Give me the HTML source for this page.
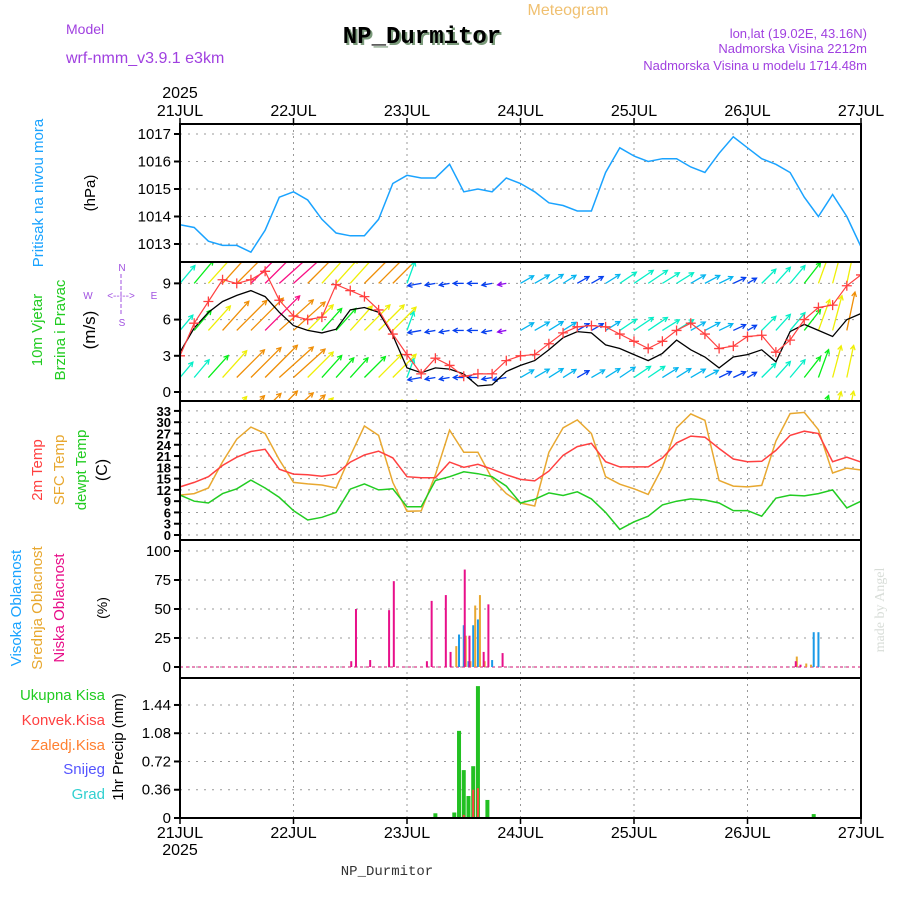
<!DOCTYPE html>
<html><head><meta charset="utf-8"><style>
html,body{margin:0;padding:0;background:#fff;}
svg{display:block;font-family:"Liberation Sans",sans-serif;}
</style></head><body>
<svg id="chart" width="900" height="900" viewBox="0 0 900 900">
<defs>
<clipPath id="clipW"><rect x="180" y="263" width="681" height="137"/></clipPath>
<clipPath id="clipP"><rect x="180" y="125" width="681" height="137"/></clipPath>
</defs>
<text x="568" y="15" fill="#f0c070" font-size="16" text-anchor="middle">Meteogram</text>
<text x="66" y="34" fill="#a040e0" font-size="14">Model</text>
<text x="66" y="63" fill="#a040e0" font-size="16">wrf-nmm_v3.9.1 e3km</text>
<text x="424" y="45" fill="#7a9a7a" font-size="24" font-weight="bold" font-family="Liberation Mono, monospace" text-anchor="middle">NP_Durmitor</text>
<text x="422" y="43" fill="#000" font-size="24" font-weight="bold" font-family="Liberation Mono, monospace" text-anchor="middle">NP_Durmitor</text>
<text x="867" y="38" fill="#a040e0" font-size="13" text-anchor="end">lon,lat (19.02E, 43.16N)</text>
<text x="867" y="53" fill="#a040e0" font-size="13" text-anchor="end">Nadmorska Visina 2212m</text>
<text x="867" y="70" fill="#a040e0" font-size="13" text-anchor="end">Nadmorska Visina u modelu 1714.48m</text>
<text x="387" y="875" fill="#333" font-size="14" font-family="Liberation Mono, monospace" text-anchor="middle">NP_Durmitor</text>
<text transform="translate(884,610) rotate(-90)" fill="#d8ddd8" font-size="14" font-family="Liberation Serif, serif" text-anchor="middle">made by Angel</text>
<g id="g-grid"></g>
<g id="g-data"></g>
<g id="g-axes"></g>
<g id="g-labels"></g>
</svg>
<script>
// ---- data (3-hourly, hours 0..144 from 21 JUL 00z) ----
const dayLabels = ["21JUL","22JUL","23JUL","24JUL","25JUL","26JUL","27JUL"];
const pressure = [1013.7,1013.6,1013.1,1012.95,1012.95,1012.7,1013.5,1014.7,1014.9,1014.6,1013.9,1013.4,1013.3,1013.3,1013.9,1015.2,1015.5,1015.4,1015.4,1015.9,1014.9,1015.0,1014.9,1015.4,1015.2,1014.9,1014.5,1014.4,1014.2,1014.2,1015.6,1016.5,1016.2,1016.0,1016.1,1016.1,1015.8,1015.6,1016.3,1016.9,1016.5,1016.1,1015.9,1015.6,1014.7,1014.0,1014.8,1014.0,1012.9];
const windSpeed10m = [3.3,5.3,6.6,7.5,8.0,8.4,7.9,6.6,5.5,5.1,4.9,5.2,6.8,7.0,6.6,4.7,2.0,1.6,2.0,1.9,1.5,0.5,0.6,1.7,2.2,2.6,3.5,4.5,5.0,4.9,3.9,3.6,3.1,2.6,3.2,4.3,3.5,2.9,2.0,2.9,3.1,3.5,2.5,5.0,5.6,5.1,4.6,6.0,6.5];
const windGust = [3.0,5.7,7.5,9.3,9.0,9.3,10.0,7.6,6.3,6.0,6.2,8.9,8.4,7.9,6.8,4.8,3.1,1.5,2.8,2.2,1.3,1.5,1.5,2.6,3.0,3.1,4.0,4.9,5.4,5.5,5.4,4.8,4.2,3.6,4.2,5.1,5.7,4.8,3.6,3.8,4.6,4.7,3.3,4.3,6.0,7.0,7.2,8.8,9.7];
const windRowTop = [6,8,10,12,13,14,15,16,14,12,10,9,10,12,12,11,6,3,2,2,2,2,2,1.5,3.5,4,4,3.5,3,3,4,5,6,6,5,5,4,4,3.5,3,2,5,5.5,6,7,9,10,10,11];
const windRowMid = [5,7,9,11,12,13,14,13,12,10,8,8,9,10,10,9,5,3,2,2,2,2,2,1.5,3.5,4,4,3.5,3,3,4,5,6,6,5,5,4,4,3.5,3,2,5,5.5,6,7,9,10,11,12];
const windRowLow = [5,6,8,10,11,12,13,13,12,10,8,7,7,8,9,9,5,3,2,2,2,2,2,3,3.5,4,4,3.5,3,3.5,4,4.5,5,5,4.5,4,4,3.5,3,3,2,5,5.5,6,7,8,9,9,10];
const windDir = [220,220,222,222,225,225,225,228,228,225,222,222,222,225,225,225,200,80,80,80,90,90,80,80,240,240,238,238,240,240,238,236,236,236,238,238,240,242,244,245,240,225,222,220,218,200,195,192,190];
const temp2m = [12.8,14.0,15.5,18.5,20.7,22.2,22.8,17.5,16.2,16.0,15.6,16.2,19.4,21.3,22.3,20.5,15.5,15.2,15.2,19.4,18.0,18.8,17.5,16.0,14.8,14.4,17.0,21.2,23.5,24.4,19.5,18.1,18.1,18.1,20.5,24.5,26.3,26.0,23.0,20.2,19.5,19.6,22.5,26.5,27.6,27.0,19.5,20.7,19.4];
const tempSfc = [10.6,11.0,12.5,19.5,25.5,28.7,27.0,20.0,14.0,13.6,13.3,12.5,21.0,29.0,26.5,14.0,6.3,6.4,16.0,27.9,22.0,22.0,15.0,11.0,8.5,7.7,22.0,28.5,30.6,27.0,15.5,13.5,12.3,10.8,18.0,28.5,32.2,30.5,14.5,13.0,12.8,13.2,25.0,32.3,32.6,28.0,16.5,17.8,17.3];
const dewpoint = [10.6,9.0,8.5,11.0,12.3,14.6,12.5,10.0,6.5,4.0,4.7,6.0,12.2,13.6,12.0,12.3,7.5,7.5,14.5,15.5,16.8,16.3,15.5,13.0,8.5,9.5,11.2,10.5,11.5,9.6,6.0,1.5,3.5,5.0,8.0,9.0,9.6,9.3,8.5,6.5,6.5,5.0,9.8,10.6,10.4,11.0,12.0,7.2,9.0];
const lowCloudHours = [36,37,40,44,45,52,53,56,57,60,61,64,65,68,130,131];
const lowCloud = [5,50,6,49,74,5,57,62,13,84,27,13,54,12,5,2];
const midCloudHours = [58,60,61,62,63,64,130,132,133];
const midCloud = [18,27,5,53,62,5,9,3,2];
const highCloudHours = [59,60,61,62,63,66,134,135,144];
const highCloud = [28,36,5,36,41,6,30,30,6];
const precipHours = [44,54,58,59,60,61,62,63,65,134];
const precipTotal = [0.01,0.06,0.07,1.11,0.61,0.28,0.66,1.68,0.23,0.05];
const convHours = [60,62,63];
const precipConv = [0.04,0.36,0.38];
const pTicks = [1013,1014,1015,1016,1017];
const wTicks = [0,3,6,9];
const tTicks = [0,3,6,9,12,15,18,21,24,27,30,33];
const cTicks = [0,25,50,75,100];
const rTicks = ["0","0.36","0.72","1.08","1.44"];

// ---- scales ----
const X0=180, X1=861;
const xH = h => X0 + h*(X1-X0)/144;
const xI = i => xH(i*3);
const pY = p => 244 - (p-1013)*27.5;
const wY = v => 392 - v*12.07;
const tY = t => 535 - t*3.76;
const cY = c => 667 - c*1.16;
const rY = r => 818 - r*78.5;
const NS="http://www.w3.org/2000/svg";
function mk(tag, attrs, parent, text){
  const e=document.createElementNS(NS,tag);
  for(const k in attrs) e.setAttribute(k,attrs[k]);
  if(text!==undefined) e.textContent=text;
  parent.appendChild(e); return e;
}
const gGrid=document.getElementById('g-grid'), gData=document.getElementById('g-data'),
      gAx=document.getElementById('g-axes'), gLab=document.getElementById('g-labels');

const panels=[
 {name:'pressure',top:124,bot:262,ticks:pTicks,y:pY,lab:v=>String(v)},
 {name:'wind',top:262,bot:401,ticks:wTicks,y:wY,lab:v=>String(v)},
 {name:'temp',top:401,bot:540,ticks:tTicks,y:tY,lab:v=>String(v)},
 {name:'cloud',top:540,bot:678,ticks:cTicks,y:cY,lab:v=>String(v)},
 {name:'precip',top:678,bot:818,ticks:rTicks,y:v=>rY(parseFloat(v)),lab:v=>v}
];
panels.forEach(p=>{
  for(let d=1; d<6; d++){
    const l=mk('line',{x1:xH(d*24),x2:xH(d*24),y1:p.top,y2:p.bot,stroke:'#999','stroke-dasharray':'2,4'},gGrid);
    
    
  }
  p.ticks.forEach(v=>{
    const y=p.y(v);
    const l=mk('line',{x1:X0,x2:X1,y1:y,y2:y,stroke:'#999','stroke-dasharray':'2,6'},gGrid);
    
    
    mk('line',{x1:X0-6,x2:X0,y1:y,y2:y,stroke:'#000','stroke-width':2},gAx);
    const t=mk('text',{x:X0-9,y:y+5,'font-size':p.name==='temp'?13:15,'text-anchor':'end',fill:'#000','font-weight':p.name==='temp'?'bold':'normal'},gAx,p.lab(v));
    
    
  });
  const r=mk('rect',{x:X0,y:p.top,width:X1-X0,height:p.bot-p.top,fill:'none',stroke:'#000','stroke-width':2},gAx);
  
  
});
// time axes
dayLabels.forEach((d,i)=>{
  const x=xH(i*24);
  mk('line',{x1:x,x2:x,y1:118,y2:124,stroke:'#000','stroke-width':1.5},gAx);
  mk('line',{x1:x,x2:x,y1:818,y2:824,stroke:'#000','stroke-width':1.5},gAx);
  const t1=mk('text',{x:x,y:116,'font-size':16,'text-anchor':'middle'},gAx,d);
  
  
  const t2=mk('text',{x:x,y:838,'font-size':16,'text-anchor':'middle'},gAx,d);
  
  
});
const y1=mk('text',{x:X0,y:98,'font-size':16,'text-anchor':'middle'},gAx,'2025');
 
const y2=mk('text',{x:X0,y:855,'font-size':16,'text-anchor':'middle'},gAx,'2025');
 

function poly(arr, yf, color, name, parent, w){
  const pts=arr.map((v,i)=>xI(i).toFixed(1)+','+yf(v).toFixed(1)).join(' ');
  const e=mk('polyline',{points:pts,fill:'none',stroke:color,'stroke-width':w||1.5},parent);
  
  
  return e;
}
// pressure
const gp=mk('g',{'clip-path':'url(#clipP)'},gData);
poly(pressure,pY,'#1aa3ff','pressure-line',gp);
// wind arrows
const gw=mk('g',{'clip-path':'url(#clipW)'},gData);
function spdColor(s){
  const hue = s<2?275 : s<3.5?225 : s<5?195 : s<6.5?170 : s<9?125 : s<11?60 : s<14?35 : 330;
  return 'hsl('+hue+',95%,'+(s>=14?52:48)+'%)';
}
function arrowRow(speeds, baseV, name){
  speeds.forEach((s,i)=>{
    const to=(windDir[i]+180)*Math.PI/180;
    const L=s*3.2+4;
    const x0=xI(i), y0=wY(baseV);
    const dx=L*Math.sin(to), dy=-L*Math.cos(to);
    const x1=x0+dx, y1=y0+dy;
    const a=Math.atan2(dy,dx), hl=5;
    const col=spdColor(s);
    const g=mk('g',{stroke:col,'stroke-width':1.3,fill:'none'},gw);
    
    
    mk('line',{x1:x0,y1:y0,x2:x1,y2:y1},g);
    mk('polyline',{points:(x1-hl*Math.cos(a-0.5))+','+(y1-hl*Math.sin(a-0.5))+' '+x1+','+y1+' '+(x1-hl*Math.cos(a+0.5))+','+(y1-hl*Math.sin(a+0.5))},g);
  });
}
arrowRow(windRowTop,9.0,'wind-top');
arrowRow(windRowMid,5.1,'wind-mid');
arrowRow(windRowLow,1.2,'wind-low');
arrowRow(windRowLow,-2.6,'wind-bottom');
poly(windSpeed10m,wY,'#000','wind-speed-line',gw,1.3);
poly(windGust,wY,'#ff4040','wind-gust-line',gw,1.2);
windGust.forEach((v,i)=>{
  const x=xI(i), y=wY(v);
  const m=mk('path',{d:`M${x-5},${y}H${x+5}M${x},${y-5}V${y+5}`,stroke:'#ff4040','stroke-width':1.3},gw);
  
  
});
// temperatures
poly(tempSfc,tY,'#e8a830','sfc-temp-line',gData);
poly(temp2m,tY,'#ff4040','temp-2m-line',gData);
poly(dewpoint,tY,'#22cc22','dewpoint-line',gData);
// cloud baseline
mk('line',{x1:X0,x2:X1,y1:cY(0),y2:cY(0),stroke:'#e060a0','stroke-width':1.5,'stroke-dasharray':'3,3'},gData);
function bars(hours, vals, yf, color, off, w, name){
  hours.forEach((h,i)=>{
    const y=yf(vals[i]), y0=yf(0);
    const r=mk('rect',{x:xH(h)+off,y:y,width:w,height:Math.max(0.5,y0-y),fill:color},gData);
    
    
  });
}
bars(highCloudHours,highCloud,cY,'#1a9ae8',-1,2,'high-cloud-bar');
bars(midCloudHours,midCloud,cY,'#e8a830',1,2,'mid-cloud-bar');
bars(lowCloudHours,lowCloud,cY,'#e8108a',0,2,'low-cloud-bar');
bars(precipHours,precipTotal,rY,'#22c022',-2,4,'total-precip-bar');
bars(convHours,precipConv,rY,'#ff4040',-1,2,'convective-precip-bar');

// left labels
function rot(x,y,txt,col,size,name){
  const t=mk('text',{transform:`translate(${x},${y}) rotate(-90)`,fill:col,'font-size':size||15,'text-anchor':'middle'},gLab,txt);
  
  
}
rot(43,193,'Pritisak na nivou mora','#1aa3ff',15,'pressure-title');
rot(95,193,'(hPa)','#000',15,'pressure-unit');
rot(42,330,'10m Vjetar','#22cc22',15,'wind-title-1');
rot(65,330,'Brzina i Pravac','#22cc22',15,'wind-title-2');
rot(95,330,'(m/s)','#000',17,'wind-unit');
rot(42,470,'2m Temp','#ff4040',15,'temp-2m-title');
rot(64,470,'SFC Temp','#e8a830',15,'sfc-temp-title');
rot(86,470,'dewpt Temp','#22cc22',15,'dewpoint-title');
rot(107,470,'(C)','#000',16,'temp-unit');
rot(21,608,'Visoka Oblacnost','#1aa3ff',15,'high-cloud-title');
rot(42,608,'Srednja Oblacnost','#e8a830',15,'mid-cloud-title');
rot(64,608,'Niska Oblacnost','#e8108a',15,'low-cloud-title');
rot(107,608,'(%)','#000',14,'cloud-unit');
rot(123,747,'1hr Precip (mm)','#000',15,'precip-title');
[['Ukupna  Kisa','#22cc22',700],['Konvek.Kisa','#ff4040',725],['Zaledj.Kisa','#ff8030',750],['Snijeg','#5555ff',774],['Grad','#30d0d0',799]].forEach(l=>{
  const t=mk('text',{x:105,y:l[2],fill:l[1],'font-size':15,'text-anchor':'end'},gLab,l[0]);
  
  
});
// compass
const cp=[['N',122,271],['S',122,326],['W',88,299],['E',154,299],['<--|-->',121,299]];
cp.forEach(c=>{
  const t=mk('text',{x:c[1],y:c[2],fill:'#a050e0','font-size':10,'text-anchor':'middle'},gLab,c[0]);
  
  
});
mk('line',{x1:121,x2:121,y1:274,y2:316,stroke:'#a050e0','stroke-dasharray':'4,2'},gLab);
</script>
</body></html>
